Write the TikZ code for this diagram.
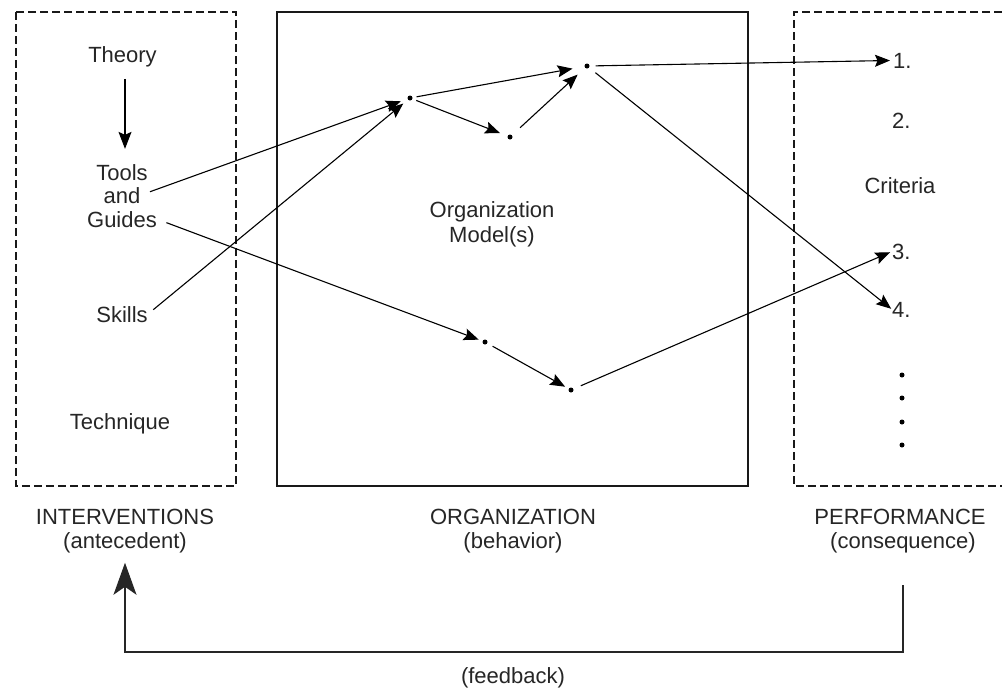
\documentclass[tikz,border=0pt]{standalone}
\usepackage{fontspec}
\setmainfont{Liberation Sans}
\usetikzlibrary{arrows.meta}

\tikzset{
  lbl/.style={font=\fontsize{22}{23.5}\selectfont, inner sep=0pt, anchor=base, text=black!85},
  num/.style={lbl, anchor=base west},
  pt/.style={circle, fill=black, inner sep=0pt, minimum size=5pt},
  framebox/.style={line width=1.4pt, draw=black!90},
  dashbox/.style={framebox, dash pattern=on 8pt off 4pt},
  conn/.style={line width=1.1pt, -{Stealth[length=15pt, width=12pt, inset=2.5pt]}},
  bigconn/.style={line width=1.2pt, -{Stealth[length=17pt, width=13pt, inset=3pt]}},
  fb/.style={line width=1.3pt, draw=black!85, -{Stealth[length=32pt, width=23pt, inset=8pt]}}
}

\begin{document}
\begin{tikzpicture}[x=1pt, y=-1pt]
  \useasboundingbox (0,0) rectangle (1002,689);
  \fill[white] (0,0) rectangle (1002,689);

  % the three columns
  \draw[dashbox] (16,12) rectangle (236,486);
  \draw[framebox] (277,12) rectangle (748,486);
  \draw[dashbox] (1002,12) -- (794,12) -- (794,486) -- (1002,486);

  % interventions
  \node[lbl] (theory) at (122.5,62) {Theory};
  \node[lbl] (tools) at (122,180) {Tools};
  \node[lbl] (and) at (122,203) {and};
  \node[lbl] (guides) at (122,227) {Guides};
  \node[lbl] (skills) at (122,322) {Skills};
  \node[lbl] (technique) at (120,429) {Technique};

  % organization
  \node[lbl] (orgmodel) at (492,217) {Organization};
  \node[lbl] (models) at (492,242) {Model(s)};

  % states inside the organization
  \node[pt] (p1) at (410,98) {};
  \node[pt] (p2) at (510,137) {};
  \node[pt] (p3) at (587,66) {};
  \node[pt] (p4) at (485,342) {};
  \node[pt] (p5) at (571,390) {};

  % performance criteria
  \node[num] (one) at (893,68) {1.};
  \node[num] (two) at (892,128) {2.};
  \node[lbl] (criteria) at (900,193) {Criteria};
  \node[num] (three) at (892,259) {3.};
  \node[num] (four) at (892,317) {4.};
  \node[pt] (d1) at (902,375) {};
  \node[pt] (d2) at (902,398) {};
  \node[pt] (d3) at (902,422) {};
  \node[pt] (d4) at (902,445) {};

  % column captions
  \node[lbl] (interv) at (125,524) {INTERVENTIONS};
  \node[lbl] (ante) at (125,548) {(antecedent)};
  \node[lbl] (org) at (513,524) {ORGANIZATION};
  \node[lbl] (behav) at (513,548) {(behavior)};
  \node[lbl] (perf) at (900,524) {PERFORMANCE};
  \node[lbl] (cons) at (903,548) {(consequence)};
  \node[lbl] (feedback) at (513,683) {(feedback)};

  % connectors
  \draw[bigconn, shorten <=12pt, shorten >=15pt] ([xshift=2.5pt]theory.south) -- ([xshift=3pt]tools.north);
  \draw[conn, shorten <=10pt, shorten >=7pt] (and.east) -- (p1);
  \draw[conn, shorten <=7pt, shorten >=6pt] (skills.east) -- (p1);
  \draw[conn, shorten <=10pt, shorten >=4pt] (guides.east) -- (p4);
  \draw[conn, shorten <=4pt, shorten >=12pt] (p1) -- (p3);
  \draw[conn, shorten <=4pt, shorten >=8pt] (p1) -- (p2);
  \draw[conn, shorten <=11pt, shorten >=10pt] (p2) -- (p3);
  \draw[conn, shorten <=6pt, shorten >=3pt] (p3) -- (one.west);
  \draw[conn, shorten <=8pt, shorten >=1pt] (p3) -- (four.west);
  \draw[conn, shorten <=6pt, shorten >=4pt] (p4) -- (p5);
  \draw[conn, shorten <=8pt, shorten >=2pt] (p5) -- (three.west);

  % feedback loop
  \coordinate (fbstart) at (903,585);
  \coordinate (fbbase) at (125,652);
  \draw[fb, shorten >=10pt] (fbstart) -- (fbstart |- fbbase) -| (ante.south);
\end{tikzpicture}
\end{document}
